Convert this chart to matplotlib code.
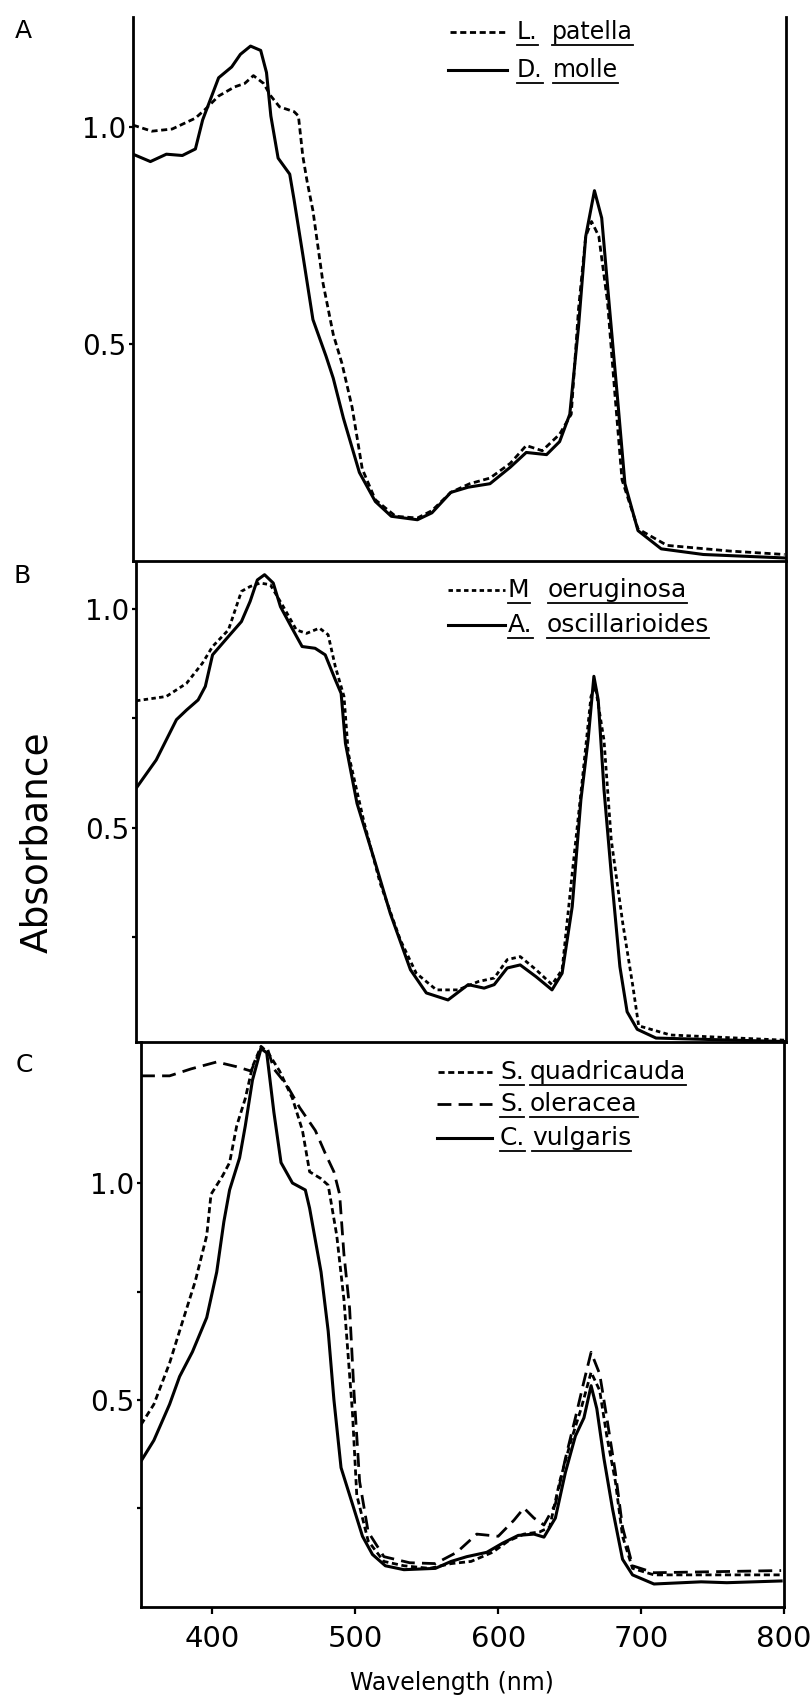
import matplotlib

matplotlib.use("Agg")
import matplotlib.pyplot as plt

W, H, DPI = 811, 1698, 100

# ---- panel A ----
a_molle_nm = [350, 362, 373, 384, 393, 398, 409, 418, 424, 431, 438, 442, 445, 450, 458,
              461, 467, 474, 483, 488, 495, 506, 517, 528, 546, 556, 569, 581, 596, 610,
              621, 635, 644, 651, 657, 662, 668, 673, 678, 684, 689, 698, 714, 743, 799]
a_molle_abs = [0.937, 0.92, 0.937, 0.934, 0.949, 1.016, 1.113, 1.138, 1.167, 1.186, 1.176,
               1.125, 1.025, 0.928, 0.891, 0.832, 0.706, 0.556, 0.472, 0.421, 0.329, 0.204,
               0.137, 0.103, 0.095, 0.111, 0.158, 0.17, 0.178, 0.216, 0.25, 0.245, 0.275,
               0.338, 0.539, 0.748, 0.853, 0.79, 0.597, 0.371, 0.178, 0.07, 0.028, 0.015, 0.007]
a_patella_nm = [350, 363, 377, 393, 400, 409, 420, 427, 433, 440, 445, 451, 461, 464, 467,
                470, 474, 481, 488, 494, 501, 508, 517, 531, 546, 556, 569, 582, 596, 610,
                621, 632, 644, 652, 657, 662, 666, 671, 677, 682, 687, 698, 718, 761, 799]
a_patella_abs = [1.004, 0.99, 0.995, 1.02, 1.041, 1.071, 1.092, 1.10, 1.118, 1.10, 1.071,
                 1.046, 1.035, 1.025, 0.933, 0.874, 0.807, 0.639, 0.522, 0.455, 0.354, 0.212,
                 0.141, 0.103, 0.099, 0.116, 0.158, 0.178, 0.191, 0.225, 0.266, 0.254, 0.292,
                 0.338, 0.58, 0.748, 0.782, 0.748, 0.597, 0.388, 0.187, 0.074, 0.036, 0.023, 0.015]

# ---- panel B ----
b_oscill_nm = [350, 364, 378, 385, 393, 398, 403, 414, 423, 429, 434, 439, 445, 450, 458,
               465, 474, 481, 488, 492, 495, 503, 515, 526, 540, 551, 566, 580, 591, 598,
               607, 616, 627, 638, 645, 652, 658, 663, 667, 670, 674, 679, 685, 690, 697,
               710, 800]
b_oscill_abs = [0.59, 0.655, 0.747, 0.769, 0.792, 0.823, 0.895, 0.937, 0.971, 1.017, 1.066,
                1.078, 1.059, 1.005, 0.956, 0.914, 0.91, 0.895, 0.838, 0.807, 0.693, 0.556,
                0.427, 0.305, 0.176, 0.123, 0.107, 0.142, 0.134, 0.142, 0.18, 0.187, 0.16,
                0.13, 0.168, 0.32, 0.564, 0.701, 0.846, 0.792, 0.587, 0.396, 0.183, 0.08,
                0.04, 0.02, 0.012]
b_aerug_nm = [350, 371, 385, 396, 403, 414, 423, 429, 436, 443, 452, 461, 468, 477, 483,
              488, 494, 497, 508, 519, 533, 544, 558, 573, 587, 598, 607, 616, 627, 638,
              645, 652, 659, 665, 668, 674, 679, 687, 694, 698, 720, 800]
b_aerug_abs = [0.79, 0.80, 0.83, 0.876, 0.914, 0.952, 1.04, 1.051, 1.059, 1.055, 1.005,
               0.952, 0.944, 0.956, 0.941, 0.868, 0.80, 0.67, 0.511, 0.374, 0.244, 0.168,
               0.13, 0.13, 0.149, 0.157, 0.199, 0.206, 0.176, 0.142, 0.176, 0.396, 0.61,
               0.80, 0.823, 0.70, 0.473, 0.282, 0.138, 0.048, 0.027, 0.015]

# ---- panel C ----
c_vulg_nm = [350, 359, 370, 377, 386, 396, 403, 408, 412, 419, 423, 428, 434, 438, 443,
             448, 456, 465, 468, 476, 481, 485, 490, 498, 505, 512, 521, 534, 556, 567,
             578, 592, 603, 614, 625, 632, 640, 647, 654, 660, 665, 669, 674, 680, 687,
             694, 709, 742, 760, 798]
c_vulg_abs = [0.359, 0.407, 0.49, 0.554, 0.611, 0.69, 0.795, 0.911, 0.984, 1.058, 1.132,
              1.237, 1.31, 1.30, 1.163, 1.047, 1.0, 0.984, 0.942, 0.795, 0.659, 0.501,
              0.344, 0.26, 0.186, 0.144, 0.118, 0.109, 0.112, 0.128, 0.139, 0.149, 0.17,
              0.188, 0.191, 0.184, 0.228, 0.333, 0.417, 0.459, 0.533, 0.48, 0.365, 0.249,
              0.133, 0.097, 0.076, 0.081, 0.079, 0.083]
c_quad_nm = [350, 359, 370, 377, 388, 396, 399, 407, 412, 417, 423, 428, 434, 439, 447,
             456, 463, 468, 476, 481, 487, 492, 498, 501, 509, 520, 534, 552, 567, 581,
             596, 607, 618, 629, 636, 643, 651, 658, 665, 671, 676, 682, 687, 694, 709, 798]
c_quad_abs = [0.443, 0.49, 0.585, 0.659, 0.774, 0.879, 0.974, 1.016, 1.047, 1.132, 1.195,
              1.268, 1.315, 1.30, 1.258, 1.195, 1.121, 1.026, 1.01, 0.995, 0.879, 0.732,
              0.47, 0.281, 0.175, 0.128, 0.118, 0.112, 0.123, 0.128, 0.149, 0.175, 0.191,
              0.196, 0.207, 0.312, 0.407, 0.48, 0.564, 0.522, 0.417, 0.312, 0.186, 0.112,
              0.097, 0.097]
c_oler_nm = [350, 370, 385, 403, 417, 427, 434, 438, 443, 452, 461, 472, 479, 485, 489,
             492, 496, 499, 503, 509, 520, 538, 556, 571, 585, 600, 611, 618, 625, 632,
             640, 647, 654, 660, 665, 671, 676, 682, 687, 694, 709, 798]
c_oler_abs = [1.247, 1.247, 1.263, 1.279, 1.268, 1.258, 1.31, 1.315, 1.263, 1.226, 1.174,
              1.121, 1.068, 1.026, 0.974, 0.837, 0.711, 0.522, 0.312, 0.196, 0.139, 0.125,
              0.123, 0.149, 0.191, 0.186, 0.223, 0.251, 0.228, 0.212, 0.26, 0.365, 0.459,
              0.543, 0.61, 0.56, 0.459, 0.333, 0.207, 0.118, 0.102, 0.107]

x_ticks = [400, 500, 600, 700, 800]
y_ticks = [0.5, 1.0]
y_ticklabels = ["0.5", "1.0"]

FINE = (1.6, 1.2)
SHORT = (2.2, 1.3)
LONG = (5.0, 2.6)

plt.rcParams["font.family"] = ["DejaVu Sans"]


def px_rect(left, top, right, bottom):
    return [left / W, 1 - bottom / H, (right - left) / W, (bottom - top) / H]


def style_panel(ax, ylim, minor):
    ax.set_facecolor("none")
    ax.set_xlim(350, 800)
    ax.set_ylim(*ylim)
    ax.spines["top"].set_visible(False)
    for side in ("left", "right", "bottom"):
        ax.spines[side].set_linewidth(2.0)
    ax.set_yticks(y_ticks)
    ax.set_yticklabels(y_ticklabels)
    if minor:
        ax.set_yticks([0.25, 0.75], minor=True)
    ax.tick_params(axis="y", which="both", direction="out", length=3, width=1.6,
                   labelsize=20, pad=2)
    ax.tick_params(axis="x", which="both", bottom=False, labelbottom=False)


fig = plt.figure(figsize=(W / DPI, H / DPI), dpi=DPI)

ax_a = fig.add_axes(px_rect(133, 17, 786, 561))
ax_b = fig.add_axes(px_rect(136, 562, 786, 1042))
ax_c = fig.add_axes(px_rect(141, 1042, 784, 1607))

style_panel(ax_a, (0.0, 1.253), minor=False)
style_panel(ax_b, (0.011, 1.107), minor=True)
style_panel(ax_c, (0.023, 1.325), minor=True)

ax_a.plot(a_patella_nm, a_patella_abs, color="black", lw=2.0, dashes=SHORT)
ax_a.plot(a_molle_nm, a_molle_abs, color="black", lw=2.2)

ax_b.plot(b_aerug_nm, b_aerug_abs, color="black", lw=2.0, dashes=FINE)
ax_b.plot(b_oscill_nm, b_oscill_abs, color="black", lw=2.2)

ax_c.plot(c_quad_nm, c_quad_abs, color="black", lw=2.0, dashes=SHORT)
ax_c.plot(c_oler_nm, c_oler_abs, color="black", lw=2.0, dashes=LONG)
ax_c.plot(c_vulg_nm, c_vulg_abs, color="black", lw=2.2)

ax_c.set_xticks(x_ticks)
ax_c.set_xticklabels([str(t) for t in x_ticks])
ax_c.tick_params(axis="x", bottom=True, labelbottom=True, direction="out",
                 length=5, width=1.6, labelsize=21, pad=8)

# overlay in pixel coordinates for labels and hand-made legends
over = fig.add_axes([0, 0, 1, 1], zorder=10)
over.set_xlim(0, W)
over.set_ylim(H, 0)
over.axis("off")
over.patch.set_visible(False)

for letter, (lx, ly) in zip("ABC", [(23, 31), (22, 576), (24, 1065)]):
    over.text(lx, ly, letter, fontsize=18, ha="center", va="center")

over.text(37, 842, "Absorbance", fontsize=27, rotation=90, ha="center", va="center")
over.text(452, 1683, "Wavelength (nm)", fontsize=17, ha="center", va="center")

legend_rows = [
    # (sample x0, x1, y, dashes, genus, genus x, species, species x, size)
    (450, 507, 32, SHORT, "L.", 517, "patella", 552, 17),
    (448, 507, 70, None, "D.", 517, "molle", 553, 17),
    (448, 505, 590, FINE, "M", 508, "oeruginosa", 548, 18),
    (448, 505, 625, None, "A.", 508, "oscillarioides", 547, 18),
    (438, 492, 1072, SHORT, "S.", 500, "quadricauda", 530, 18),
    (437, 492, 1104, LONG, "S.", 500, "oleracea", 530, 18),
    (437, 492, 1138, None, "C.", 500, "vulgaris", 532, 18),
]

words = []
for x0, x1, y, dash, genus, gx, species, sx, size in legend_rows:
    if dash is None:
        over.plot([x0, x1], [y, y], color="black", lw=2.2)
    else:
        over.plot([x0, x1], [y, y], color="black", lw=2.0, dashes=dash)
    words.append(over.text(gx, y, genus, fontsize=size, ha="left", va="center"))
    words.append(over.text(sx, y, species, fontsize=size, ha="left", va="center"))

renderer = fig.canvas.get_renderer()
inv = over.transData.inverted()
for t in words:
    bb = t.get_window_extent(renderer)
    (ux0, uy), (ux1, _) = inv.transform([(bb.x0, bb.y0), (bb.x1, bb.y0)])
    over.plot([ux0, ux1], [uy + 1, uy + 1], color="black", lw=1.3)

fig.savefig("out.png", dpi=DPI)
